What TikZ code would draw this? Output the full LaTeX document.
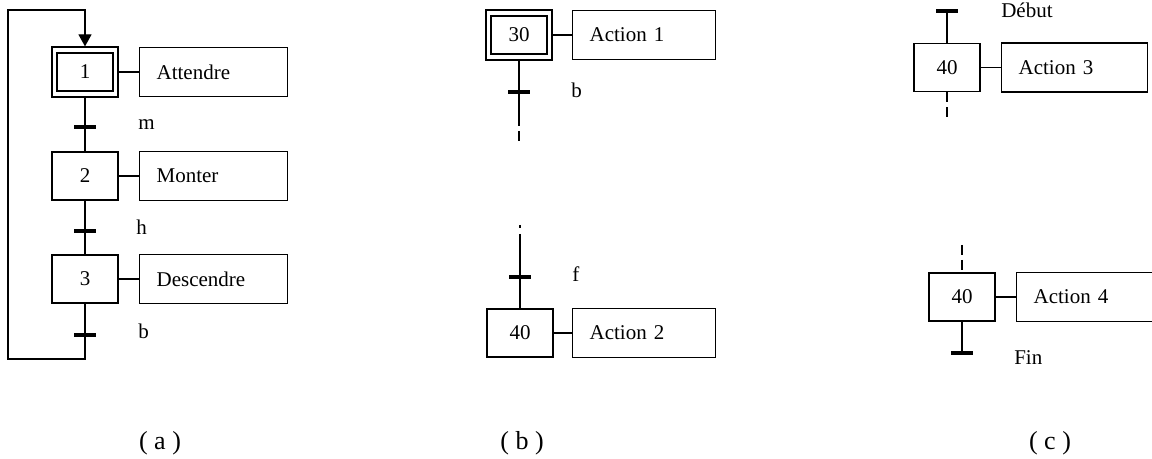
\documentclass[tikz,border=0pt]{standalone}
\usepackage{fontspec}
\setmainfont{Liberation Serif}
\usetikzlibrary{arrows.meta, fit}

\begin{document}
\begin{tikzpicture}[x=0.5pt, y=-0.5pt, line width=0.6pt,
    font=\fontsize{10.5}{12}\selectfont,
    etape/.style={draw, minimum width=33pt, minimum height=24pt, inner sep=0pt},
    etapeinit/.style={draw, line width=1pt, minimum width=28pt, minimum height=19pt, inner sep=0pt},
    cadre/.style={draw, inner xsep=2pt, inner ysep=2.5pt},
    action/.style={draw, anchor=west, align=left, minimum height=24.5pt, inner xsep=8.5pt, inner ysep=0pt},
    transition/.style={fill, minimum width=11pt, minimum height=1.8pt, inner sep=0pt},
    recept/.style={anchor=west},
    pointille/.style={dash pattern=on 5pt off 2.5pt},
    legende/.style={font=\fontsize{13}{15}\selectfont}]
  \useasboundingbox (0,0) rectangle (1152,459);

  % (a)
  \node[etapeinit] (s1) at (85,72) {1};
  \node[cadre, fit=(s1)] (s1x) {};
  \node[action, text width=57pt] (a1) at (139,72) {Attendre};
  \node[transition] (t1) at (85,127) {};
  \node[recept] (r1) at (131,125) {m};
  \node[etape] (s2) at (85,176) {2};
  \node[action, text width=57pt] (a2) at (139,176) {Monter};
  \node[transition] (t2) at (85,231) {};
  \node[recept] (r2) at (129,227) {h};
  \node[etape] (s3) at (85,279) {3};
  \node[action, text width=57pt] (a3) at (139,279) {Descendre};
  \node[transition] (t3) at (85,335) {};
  \node[recept] (r3) at (131,331) {b};
  \coordinate (rb) at (8,359);
  \coordinate (rh) at (8,10);
  \draw (s1x) -- (a1);
  \draw (s2) -- (a2);
  \draw (s3) -- (a3);
  \draw (s1x) -- (t1) -- (s2) -- (t2) -- (s3) -- (t3);
  \draw[-{Triangle[width=6.5pt,length=6pt]}] (t3.center) |- (rb) -- (rh) -| (s1x.north);

  % (b)
  \node[etapeinit] (s30) at (519,35) {30};
  \node[cadre, fit=(s30)] (s30x) {};
  \node[action, text width=54.5pt] (a30) at (572,35) {Action 1};
  \node[transition] (t30) at (519,92) {};
  \node[recept] (r30) at (564,90) {b};
  \coordinate (c30) at (519,126);
  \coordinate (c30e) at (519,143);
  \coordinate (c40) at (520,225);
  \coordinate (c40m) at (520,234);
  \node[transition] (t40) at (520,277) {};
  \node[recept] (r40) at (565,274) {f};
  \node[etape] (s40) at (520,333) {40};
  \node[action, text width=54.5pt] (a40) at (572,333) {Action 2};
  \draw (s30x) -- (a30);
  \draw (s40) -- (a40);
  \draw (s30x) -- (t30) -- (c30);
  \draw[pointille, dash phase=5pt] (c30) -- (c30e);
  \draw[dash pattern=on 1.5pt off 3pt] (c40) -- (c40m);
  \draw (c40m) -- (t40) -- (s40);

  % (c)
  \node[transition] (t41) at (947,11) {};
  \node[recept] (r41) at (994,10) {Début};
  \node[etape] (s41) at (947,67.5) {40};
  \node[action, text width=56pt] (a41) at (1001,67.5) {Action 3};
  \coordinate (c41) at (947,121);
  \coordinate (c42) at (962,245);
  \node[etape] (s42) at (962,297) {40};
  \node[action, text width=70pt] (a42) at (1016,297) {Action 4};
  \node[transition] (t42) at (962,353) {};
  \node[recept] (r42) at (1007,358) {Fin};
  \draw (t41) -- (s41) -- (a41);
  \draw[pointille] (s41) -- (c41);
  \draw[pointille] (c42) -- (s42);
  \draw (s42) -- (a42);
  \draw (s42) -- (t42);

  \node[legende] (la) at (160,443) {( a )};
  \node[legende] (lb) at (522,443) {( b )};
  \node[legende] (lc) at (1050,443) {( c )};
\end{tikzpicture}
\end{document}
